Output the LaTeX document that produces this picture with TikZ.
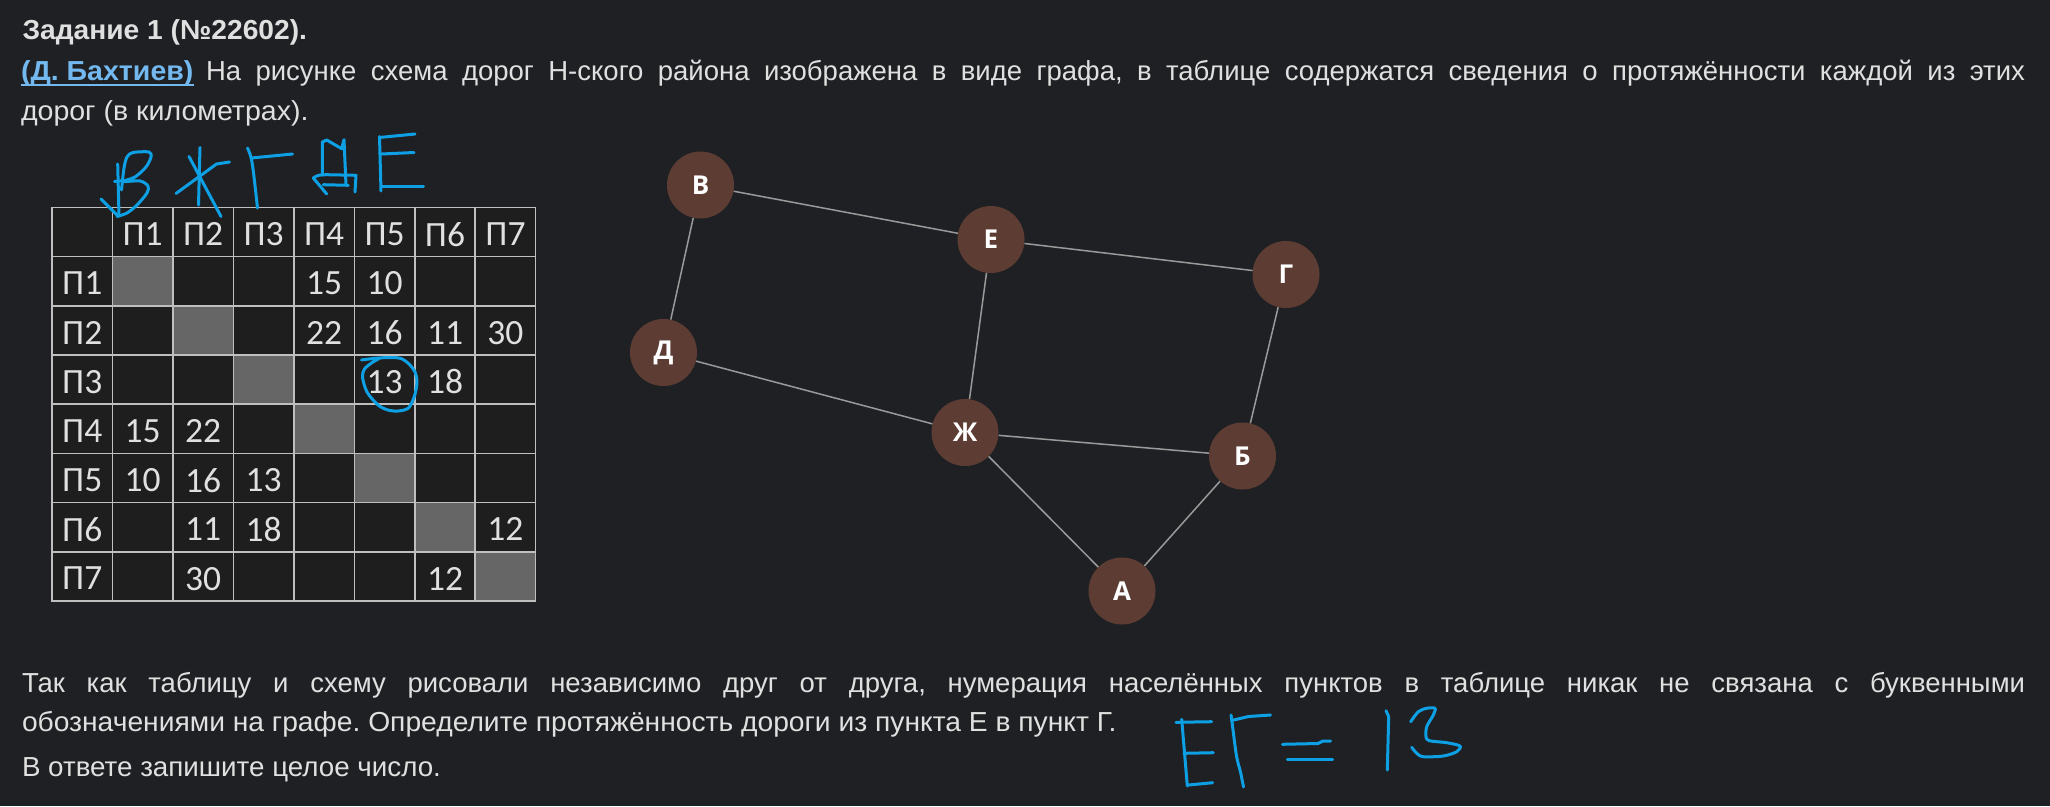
\documentclass[tikz,border=0pt]{standalone}
\usepackage{fontspec}
\usepackage{graphicx}
\setmainfont{Liberation Sans}
\newfontfamily\cellfont{Carlito}
\newfontfamily\gfont{Open Sans}
\definecolor{bgcol}{RGB}{31,32,35}
\definecolor{textcol}{RGB}{224,224,224}
\definecolor{linkcol}{RGB}{115,185,240}
\definecolor{nodefill}{RGB}{93,61,51}
\definecolor{edgecol}{RGB}{154,154,154}
\definecolor{gridcol}{RGB}{191,191,191}
\definecolor{cellgray}{RGB}{102,102,102}
\definecolor{tablebg}{RGB}{30,30,30}
\definecolor{handcol}{RGB}{14,160,228}
\begin{document}
\frenchspacing
\begin{tikzpicture}[x=1pt,y=-1pt,
  txt/.style={inner sep=0pt, outer sep=0pt, text=textcol, anchor=base west,
    font=\fontsize{27.5}{30}\selectfont},
  cell/.style={draw=gridcol, line width=1.6pt, fill=tablebg, anchor=north west,
    minimum width=60.46pt, minimum height=49.2pt, inner sep=0pt, outer sep=0pt},
  diagcell/.style={cell, fill=cellgray},
  celltext/.style={inner sep=0pt, text=textcol, yshift=-2.3pt,
    font=\cellfont\fontsize{35.5}{40}\selectfont},
  gnode/.style={circle, fill=nodefill, minimum size=67pt, inner sep=0pt,
    text=white, font=\gfont\bfseries\fontsize{26}{28}\selectfont},
  edge/.style={draw=edgecol, line width=1.5pt},
  hand/.style={draw=handcol, line width=3pt, line cap=round, line join=round}]
\useasboundingbox (0,0) rectangle (2050,806);
\fill[bgcol] (0,0) rectangle (2050,806);

% --- text ---
\node[txt] (title) at (22.5,39.5) {\resizebox{284.5pt}{\height}{\bfseries Задание 1 (№22602).}};
\node[txt, text=linkcol] (link) at (21,80.5) {\resizebox{172.5pt}{\height}{\bfseries (Д. Бахтиев)}};
\draw[linkcol, line width=1.6pt] ([yshift=-4.5pt]link.base west) -- ([yshift=-4.5pt]link.base east);
\node[txt, anchor=base east] (l2) at (2025,80.5) {\makebox[1819pt][s]{На рисунке схема дорог Н-ского района изображена в виде графа, в таблице содержатся сведения о протяжённости каждой из этих}};
\node[txt] (l3) at (21,120.5) {\resizebox{287.5pt}{\height}{дорог (в километрах).}};
\node[txt] (b1) at (22,692) {\makebox[2003pt][s]{Так как таблицу и схему рисовали независимо друг от друга, нумерация населённых пунктов в таблице никак не связана с буквенными}};
\node[txt] (b2) at (22,731.5) {\resizebox{1094.5pt}{\height}{обозначениями на графе. Определите протяжённость дороги из пункта Е в пункт Г.}};
\node[txt] (b3) at (22,776) {\resizebox{419pt}{\height}{В ответе запишите целое число.}};

% --- table ---
\foreach \r in {0,...,7}{
  \foreach \c in {0,...,7}{
    \node[cell] (c\r\c) at ({52+60.46*\c},{207.3+49.2*\r}) {};
  }
}
\foreach \k in {1,...,7}{
  \node[diagcell] (d\k) at ({52+60.46*\k},{207.3+49.2*\k}) {};
}
\foreach \k in {1,...,7}{
  \node[celltext] (h\k) at (c0\k) {П\k};
  \node[celltext] (r\k) at (c\k0) {П\k};
}
\node[celltext] (n14) at (c14) {15};
\node[celltext] (n15) at (c15) {10};
\node[celltext] (n24) at (c24) {22};
\node[celltext] (n25) at (c25) {16};
\node[celltext] (n26) at (c26) {11};
\node[celltext] (n27) at (c27) {30};
\node[celltext] (n35) at (c35) {13};
\node[celltext] (n36) at (c36) {18};
\node[celltext] (n41) at (c41) {15};
\node[celltext] (n42) at (c42) {22};
\node[celltext] (n51) at (c51) {10};
\node[celltext] (n52) at (c52) {16};
\node[celltext] (n53) at (c53) {13};
\node[celltext] (n62) at (c62) {11};
\node[celltext] (n63) at (c63) {18};
\node[celltext] (n67) at (c67) {12};
\node[celltext] (n72) at (c72) {30};
\node[celltext] (n76) at (c76) {12};

% --- graph ---
\node[gnode] (V) at (700.5,185) {В};
\node[gnode] (E) at (991,239.5) {Е};
\node[gnode] (G) at (1286,274.5) {Г};
\node[gnode] (D) at (663.5,352.5) {Д};
\node[gnode] (Zh) at (965,432.5) {Ж};
\node[gnode] (B) at (1242.5,456) {Б};
\node[gnode] (A) at (1122,591) {А};
\draw[edge] (V) -- (E);
\draw[edge] (V) -- (D);
\draw[edge] (E) -- (G);
\draw[edge] (E) -- (Zh);
\draw[edge] (D) -- (Zh);
\draw[edge] (G) -- (B);
\draw[edge] (Zh) -- (B);
\draw[edge] (Zh) -- (A);
\draw[edge] (B) -- (A);

% --- handwriting above table ---
\draw[hand] (101,199) -- (117,215);
\draw[hand] (117.7,164) -- (119,215.5);
\draw[hand] (114.5,181.5) -- (125,180.5);
\draw[hand] plot[smooth] coordinates {(121.5,190) (124,168) (127,157) (133,152.5) (149,152) (151,157) (146,167) (135,177) (123,181.5) (140,181) (148,186) (147,193) (137,205) (127,213) (117,216.5)};
\draw[hand] (200,147.5) -- (198.5,205);
\draw[hand] (176,193.5) -- (216.5,164) -- (229.5,162);
\draw[hand] (189,156.5) -- (221,216.5);
\draw[hand] (247.5,148) .. controls (252,158) .. (257.5,208);
\draw[hand] (251.5,158) -- (292.5,154);
\draw[hand] (322.3,175) -- (322.3,142) -- (326.7,140) -- (341.7,148.7) -- (344,139.7) -- (346,184.7);
\draw[hand] (313.3,178) .. controls (318,175) .. (326.7,174.7) -- (356,175.3) -- (355,192);
\draw[hand] (313.3,178) -- (326.7,194);
\draw[hand] (323.3,184.7) -- (348.3,185.3);
\draw[hand] (379.5,136.5) -- (381,191);
\draw[hand] (379.5,137.5) -- (415,134);
\draw[hand] (381.5,154) -- (414,152.5);
\draw[hand] (381.5,186.5) -- (423.5,186.5);

% --- circle around 13 ---
\draw[hand] plot[smooth] coordinates {(361.5,360) (375,358.3) (390,357.5) (401,358.5) (409,364) (415,372) (417,382) (414.5,396) (408.5,408) (398,411) (388,410) (378,405) (367,392) (362.5,377) (364.5,369) (371.5,363) (380,358)};

% --- ЕГ = 13 ---
\draw[hand] (1181.7,719.3) -- (1187.3,786);
\draw[hand] (1176,722.3) -- (1211.7,721.7);
\draw[hand] (1184,753.3) -- (1213.3,752.7);
\draw[hand] (1188.3,785) -- (1212.7,782.7);
\draw[hand] plot[smooth] coordinates {(1231,715) (1232,722) (1236.5,756) (1240.5,772) (1243.5,787)};
\draw[hand] (1231.5,720.5) -- (1248.5,716.5) -- (1270.5,715);
\draw[hand] (1282.5,744.3) -- (1318,743.5) -- (1323,741) -- (1330.5,741);
\draw[hand] (1287.3,759.3) -- (1332.7,759.3);
\draw[hand] (1386,710.7) -- (1388.7,716.7) -- (1387.3,770);
\draw[hand] plot[smooth] coordinates {(1410.7,721.7) (1418.3,711.7) (1426.7,708.3) (1435,708.3) (1433.3,715) (1426.7,726.7) (1426,736.7) (1429.3,740.7) (1446.7,742.7) (1460,746) (1456.7,751.7) (1443.3,756) (1423.3,756.7) (1416.7,753.3) (1411.7,747.3)};
\end{tikzpicture}
\end{document}
